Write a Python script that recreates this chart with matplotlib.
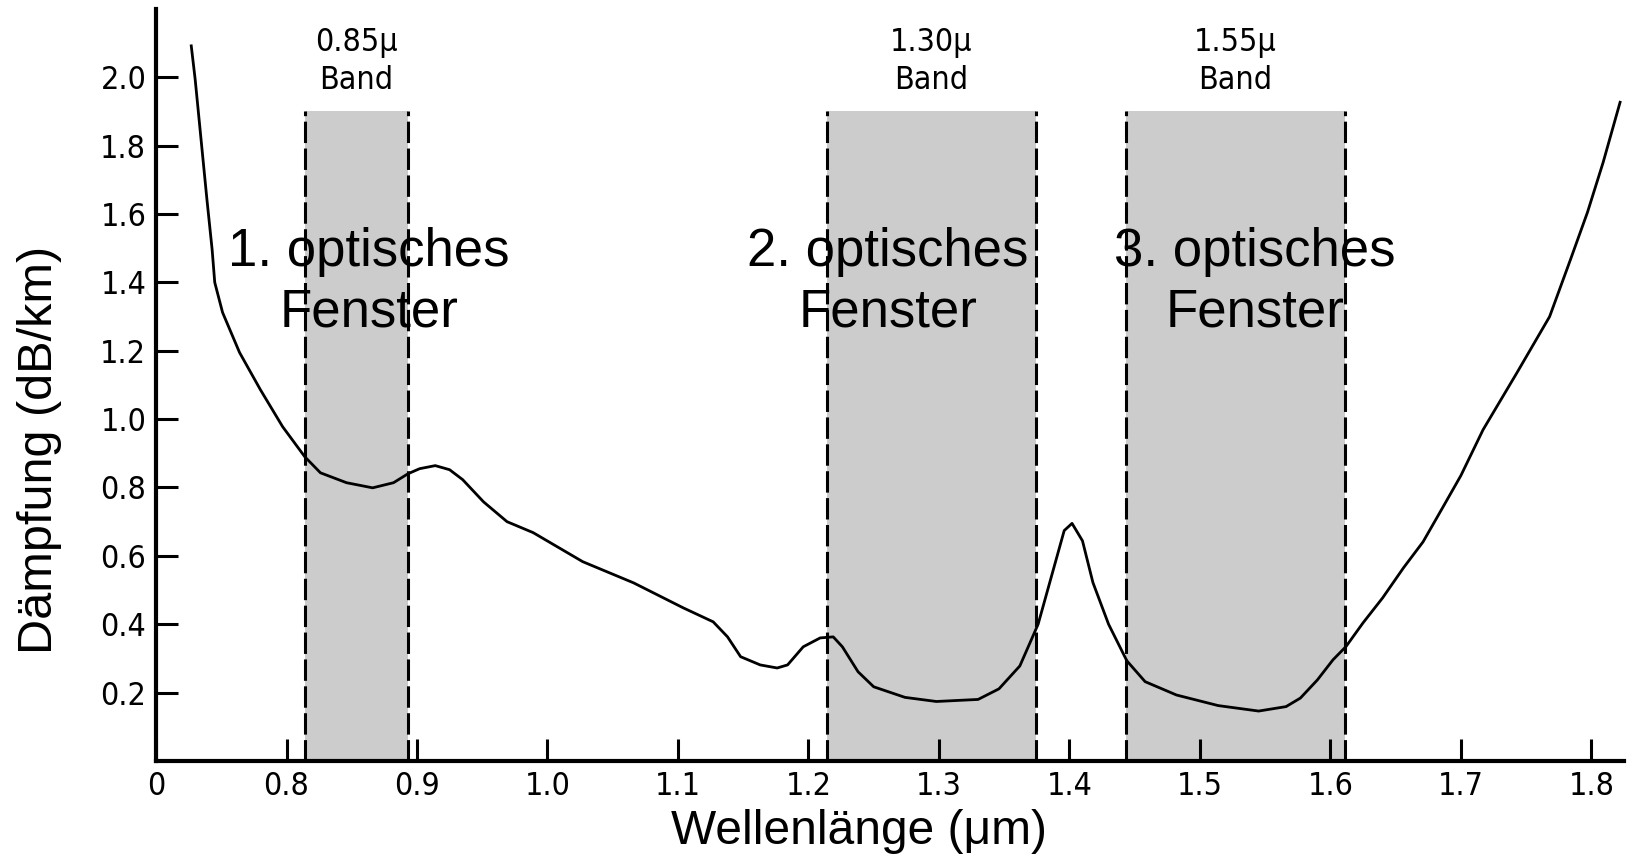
import matplotlib
matplotlib.use("Agg")
import matplotlib.pyplot as plt

# attenuation curve of a glass fibre
wavelength = [0.727, 0.730, 0.735, 0.739, 0.743, 0.745, 0.751, 0.764, 0.780, 0.797,
              0.814, 0.826, 0.846, 0.866, 0.882, 0.893, 0.902, 0.914, 0.925, 0.935,
              0.951, 0.969, 0.989, 1.027, 1.066, 1.104, 1.127, 1.138, 1.148, 1.163,
              1.176, 1.184, 1.196, 1.209, 1.219, 1.226, 1.238, 1.250, 1.274, 1.298,
              1.330, 1.346, 1.362, 1.376, 1.386, 1.396, 1.402, 1.410, 1.418, 1.430,
              1.444, 1.458, 1.482, 1.514, 1.545, 1.566, 1.577, 1.590, 1.602, 1.612,
              1.625, 1.640, 1.656, 1.671, 1.686, 1.700, 1.717, 1.743, 1.768, 1.784,
              1.797, 1.809, 1.822]
attenuation = [2.092, 1.994, 1.799, 1.643, 1.496, 1.400, 1.312, 1.195, 1.086, 0.978,
               0.890, 0.843, 0.814, 0.799, 0.814, 0.840, 0.855, 0.864, 0.852, 0.823,
               0.758, 0.700, 0.668, 0.583, 0.521, 0.448, 0.407, 0.363, 0.305, 0.281,
               0.272, 0.281, 0.334, 0.360, 0.363, 0.334, 0.261, 0.217, 0.186, 0.174,
               0.180, 0.211, 0.278, 0.400, 0.537, 0.674, 0.695, 0.644, 0.522, 0.400,
               0.293, 0.232, 0.193, 0.162, 0.146, 0.159, 0.184, 0.237, 0.296, 0.335,
               0.404, 0.477, 0.565, 0.641, 0.741, 0.835, 0.969, 1.136, 1.300, 1.467,
               1.605, 1.751, 1.927]

# optical windows
band_left = [0.814, 1.214, 1.443]
band_right = [0.893, 1.374, 1.611]
band_top = 1.90
band_labels = ["0.85\u00b5\nBand", "1.30\u00b5\nBand", "1.55\u00b5\nBand"]
window_labels = ["1. optisches\nFenster", "2. optisches\nFenster", "3. optisches\nFenster"]
window_x = [0.863, 1.261, 1.542]

x_ticks = [0.7, 0.8, 0.9, 1.0, 1.1, 1.2, 1.3, 1.4, 1.5, 1.6, 1.7, 1.8]
x_ticklabels = ["0", "0.8", "0.9", "1.0", "1.1", "1.2", "1.3", "1.4", "1.5", "1.6", "1.7", "1.8"]
y_ticks = [0.2, 0.4, 0.6, 0.8, 1.0, 1.2, 1.4, 1.6, 1.8, 2.0]
y_ticklabels = ["0.2", "0.4", "0.6", "0.8", "1.0", "1.2", "1.4", "1.6", "1.8", "2.0"]

fig = plt.figure(figsize=(16.32, 8.67), dpi=100)
ax = fig.add_axes([0.0956, 0.1223, 0.8995, 0.8674])

for l, r, bl in zip(band_left, band_right, band_labels):
    ax.fill_between([l, r], 0, band_top, color="#cccccc", lw=0, zorder=1)
    for xe in (l, r):
        ax.plot([xe, xe], [0, band_top], color="black", lw=2.2,
                linestyle=(0, (7, 1.8)), zorder=2)
    ax.text((l + r) / 2, 2.047, bl, ha="center", va="center", fontsize=23,
            family="DejaVu Sans", fontstretch="condensed", linespacing=1.3, zorder=3)

ax.plot(wavelength, attenuation, color="black", lw=2.0, zorder=4)

for xc, wl in zip(window_x, window_labels):
    ax.text(xc, 1.400, wl, ha="center", va="center", fontsize=38,
            family="Liberation Sans", linespacing=1.27, zorder=5)

ax.set_xlim(0.7, 1.825)
ax.set_ylim(0, 2.2)
ax.set_xticks(x_ticks)
ax.set_xticklabels(x_ticklabels)
ax.set_yticks(y_ticks)
ax.set_yticklabels(y_ticklabels)
ax.tick_params(direction="in", length=16, width=2.2, labelsize=23, pad=7)
for lab in ax.get_xticklabels() + ax.get_yticklabels():
    lab.set_fontstretch("condensed")

for side in ("top", "right"):
    ax.spines[side].set_visible(False)
for side in ("left", "bottom"):
    ax.spines[side].set_linewidth(3)

ax.set_xlabel("Wellenl\u00e4nge (\u03bcm)", fontsize=34.5, family="Liberation Sans")
ax.set_ylabel("D\u00e4mpfung (dB/km)", fontsize=35, family="Liberation Sans")
ax.xaxis.set_label_coords(0.479, -0.064)
ax.yaxis.set_label_coords(-0.064, 0.413)

fig.savefig("out.png", dpi=100)
